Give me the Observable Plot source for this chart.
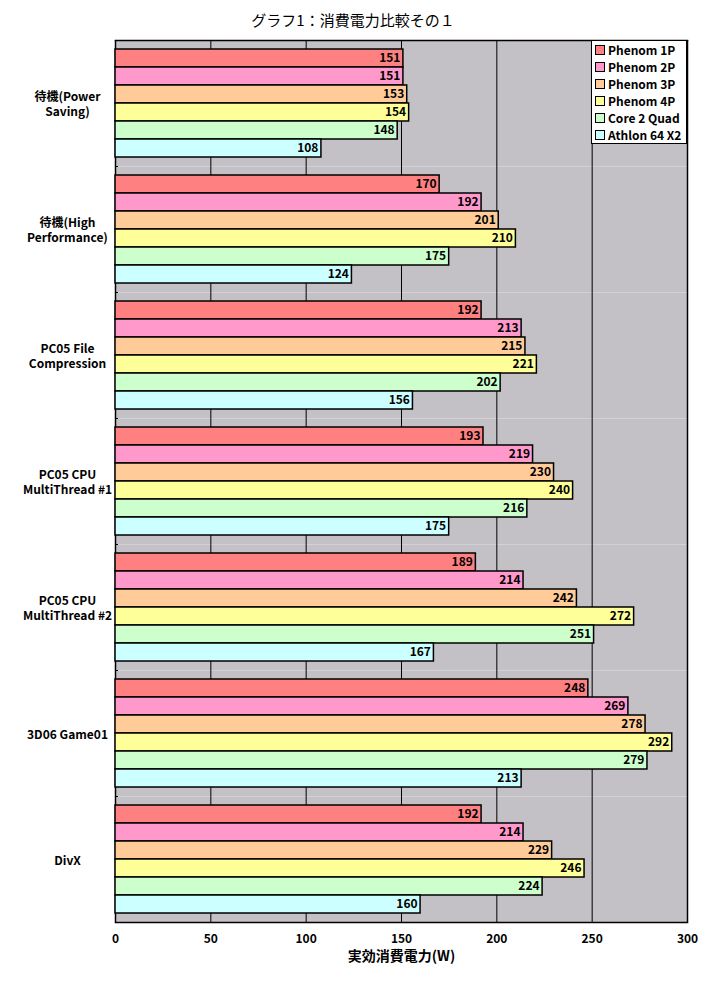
<!DOCTYPE html>
<html>
<head>
<meta charset="utf-8">
<script src="https://cdn.jsdelivr.net/npm/d3@7"></script>
<script src="https://cdn.jsdelivr.net/npm/@observablehq/plot@0.6"></script>
<style>
  html, body { margin: 0; padding: 0; background: #fff; }
  body { width: 706px; height: 983px; position: relative; font-family: "Noto Sans CJK JP", sans-serif; }
  #title { height: 39px; line-height: 40px; text-align: center; font-size: 15px; color: #000; }
  #legend { position: absolute; left: 591px; top: 40px; width: 96px; background: #fff; border: 1px solid #000; padding: 0 0 0 3px; box-sizing: border-box; font-weight: bold; font-size: 12px; }
  #legend .row { display: flex; align-items: center; height: 17px; white-space: nowrap; }
  #legend .sw { width: 8px; height: 8px; border: 1px solid #000; margin-right: 3px; flex: none; }
</style>
</head>
<body>
<div id="title">グラフ1：消費電力比較その１</div>
<div id="chart"></div>
<div id="legend"></div>
<script>
const categories = [
  "待機(Power\nSaving)",
  "待機(High\nPerformance)",
  "PC05 File\nCompression",
  "PC05 CPU\nMultiThread #1",
  "PC05 CPU\nMultiThread #2",
  "3D06 Game01",
  "DivX"
];
const series = ["Phenom 1P", "Phenom 2P", "Phenom 3P", "Phenom 4P", "Core 2 Quad", "Athlon 64 X2"];
const colors = ["#ff8080", "#ff99cc", "#ffcc99", "#ffff99", "#ccffcc", "#ccffff"];
const phenom1P = [151, 170, 192, 193, 189, 248, 192];
const phenom2P = [151, 192, 213, 219, 214, 269, 214];
const phenom3P = [153, 201, 215, 230, 242, 278, 229];
const phenom4P = [154, 210, 221, 240, 272, 292, 246];
const core2Quad = [148, 175, 202, 216, 251, 279, 224];
const athlon64X2 = [108, 124, 156, 175, 167, 213, 160];
const xTicks = [0, 50, 100, 150, 200, 250, 300];
const gridTicks = [50, 100, 150, 200, 250];
const xLabel = "実効消費電力(W)";

const seriesValues = [phenom1P, phenom2P, phenom3P, phenom4P, core2Quad, athlon64X2];
const data = categories.flatMap((c, i) => series.map((s, j) => ({cat: c, s, v: seriesValues[j][i]})));

const chart = Plot.plot({
  width: 706,
  height: 933,
  marginLeft: 115,
  marginRight: 19,
  marginTop: 1,
  marginBottom: 50,
  style: {fontFamily: "'Noto Sans CJK JP', sans-serif", fontSize: "12px", fontWeight: "bold", color: "#000", background: "transparent"},
  x: {domain: [0, 300]},
  fy: {domain: categories, padding: 0, label: null},
  y: {domain: series, paddingInner: 0, paddingOuter: 0.4, axis: null},
  color: {domain: series, range: colors},
  marks: [
    Plot.frame({fill: "#c3c1c5", stroke: "none"}),
    Plot.ruleX(gridTicks, {stroke: "#000", strokeWidth: 1}),
    Plot.ruleX([0, 300], {stroke: "#000", strokeWidth: 1.5}),
    Plot.frame({anchor: "top", facetAnchor: "top", stroke: "#000", strokeWidth: 1.5}),
    Plot.frame({anchor: "bottom", facetAnchor: "bottom", stroke: "#000", strokeWidth: 1.5}),
    Plot.axisFy({anchor: "left", tickSize: 3, text: null, label: null, dy: 63, dx: 3, stroke: "#000"}),
    Plot.barX(data, {x: "v", y: "s", fy: "cat", fill: "s", stroke: "#000", strokeWidth: 1.5}),
    Plot.text(data, {x: "v", y: "s", fy: "cat", text: d => String(d.v), textAnchor: "end", dx: -3, fill: "#000", fontWeight: "bold", fontSize: 12}),
    Plot.axisX({anchor: "bottom", ticks: xTicks, tickSize: 0, tickPadding: 12, fontSize: 12, fontWeight: "bold", label: null}),
    Plot.text([xLabel], {frameAnchor: "bottom", facetAnchor: "bottom", dy: 38, fontSize: 14, fontWeight: "bold", fill: "#000"}),
    Plot.axisFy({anchor: "left", tickSize: 0, tickPadding: 0, label: null, textAnchor: "middle", dx: -48, fontSize: 12, fontWeight: "bold", lineHeight: 1.3})
  ]
});
document.getElementById("chart").appendChild(chart);

const legend = document.getElementById("legend");
series.forEach((s, i) => {
  const row = document.createElement("div");
  row.className = "row";
  const sw = document.createElement("span");
  sw.className = "sw";
  sw.style.background = colors[i];
  const t = document.createElement("span");
  t.textContent = s;
  row.appendChild(sw);
  row.appendChild(t);
  legend.appendChild(row);
});
</script>
</body>
</html>
